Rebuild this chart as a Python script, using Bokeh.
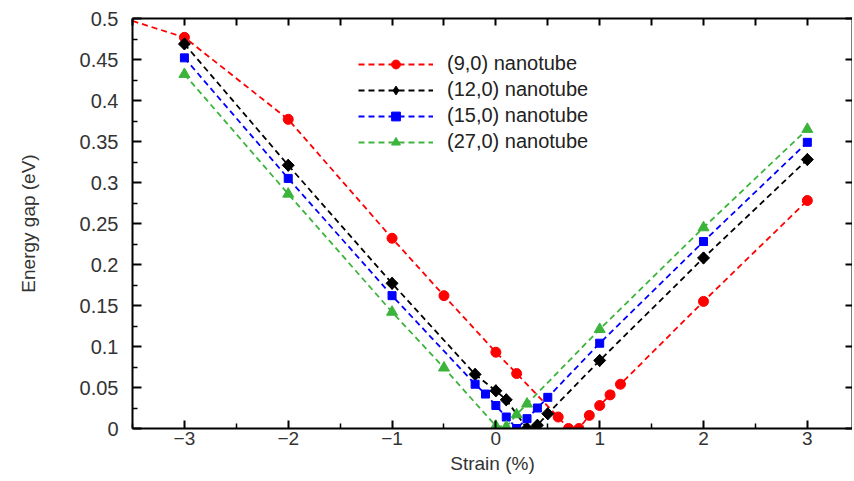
import numpy as np
from bokeh.plotting import figure
from bokeh.models import LinearAxis, FixedTicker, Range1d, Legend, LegendItem
from bokeh.embed import file_html
from bokeh.resources import INLINE

# ---- data ----
x_9 = [-3, -2, -1, -0.5, 0, 0.2, 0.6, 0.7, 0.8, 0.9, 1.0, 1.1, 1.2, 2, 3]
y_9 = [0.477, 0.377, 0.232, 0.162, 0.093, 0.067, 0.014, 0.0, 0.0, 0.016, 0.028, 0.041, 0.054, 0.155, 0.278]
x_9_edge = [-3.5]
y_9_edge = [0.497]

x_12 = [-3, -2, -1, -0.2, 0, 0.1, 0.3, 0.4, 0.5, 1, 2, 3]
y_12 = [0.469, 0.321, 0.177, 0.066, 0.046, 0.035, 0.0, 0.004, 0.018, 0.083, 0.208, 0.328]

x_15 = [-3, -2, -1, -0.2, -0.1, 0, 0.1, 0.2, 0.3, 0.4, 0.5, 1, 2, 3]
y_15 = [0.452, 0.305, 0.162, 0.054, 0.042, 0.028, 0.014, 0.0, 0.012, 0.025, 0.038, 0.104, 0.228, 0.349]

x_27 = [-3, -2, -1, -0.5, 0, 0.1, 0.2, 0.3, 1, 2, 3]
y_27 = [0.432, 0.286, 0.142, 0.074, 0.003, 0.002, 0.017, 0.030, 0.121, 0.245, 0.365]

series_names = ["(9,0) nanotube", "(12,0) nanotube", "(15,0) nanotube", "(27,0) nanotube"]

xtick_values = [-3, -2, -1, 0, 1, 2, 3]
xtick_labels = ["\u22123", "\u22122", "\u22121", "0", "1", "2", "3"]
xminor_values = [-3.5, -2.5, -1.5, -0.5, 0.5, 1.5, 2.5]
ytick_values = [0, 0.05, 0.1, 0.15, 0.2, 0.25, 0.3, 0.35, 0.4, 0.45, 0.5]
ytick_labels = ["0", "0.05", "0.1", "0.15", "0.2", "0.25", "0.3", "0.35", "0.4", "0.45", "0.5"]

# ---- figure ----
FONT = "Liberation Sans"
p = figure(width=852, height=480, x_range=Range1d(-3.5, 3.435), y_range=Range1d(0, 0.5),
           output_backend="svg", toolbar_location=None,
           x_axis_location=None, y_axis_location=None,
           min_border_left=132, min_border_right=0, min_border_top=18, min_border_bottom=52)
p.outline_line_color = None
p.background_fill_color = "white"
p.border_fill_color = "white"
p.xgrid.grid_line_color = None
p.ygrid.grid_line_color = None


def style_axis(ax, tick_in, minor_in):
    ax.axis_line_color = "black"
    ax.axis_line_width = 2
    ax.major_tick_in = tick_in
    ax.major_tick_out = 0
    ax.minor_tick_in = minor_in
    ax.minor_tick_out = 0
    ax.major_tick_line_color = "black"
    ax.major_tick_line_width = 2
    ax.minor_tick_line_color = "black"
    ax.minor_tick_line_width = 1.5
    ax.major_label_text_font = FONT
    ax.major_label_text_color = "#333333"
    ax.axis_label_text_font = FONT
    ax.axis_label_text_font_style = "normal"
    ax.axis_label_text_color = "#333333"


minor_y = list((np.array(ytick_values[:-1]) + np.array(ytick_values[1:])) / 2)

bottom = LinearAxis(ticker=FixedTicker(ticks=xtick_values, minor_ticks=xminor_values),
                    axis_label="Strain (%)",
                    major_label_overrides=dict(zip(xtick_values, xtick_labels)))
style_axis(bottom, 8, 5)
bottom.major_label_text_font_size = "19px"
bottom.axis_label_text_font_size = "19px"
bottom.major_label_standoff = 3
bottom.axis_label_standoff = 5

left = LinearAxis(ticker=FixedTicker(ticks=ytick_values, minor_ticks=minor_y),
                  axis_label="Energy gap (eV)",
                  major_label_overrides=dict(zip(ytick_values, ytick_labels)))
style_axis(left, 9, 5)
left.major_label_text_font_size = "20px"
left.axis_label_text_font_size = "19px"
left.major_label_standoff = 14
left.axis_label_standoff = 38

# frame ticks on top and right: only minor ticks, so no labels are drawn
top = LinearAxis(ticker=FixedTicker(ticks=[], minor_ticks=sorted(xtick_values + xminor_values)))
style_axis(top, 0, 7)
top.minor_tick_line_width = 2
right = LinearAxis(ticker=FixedTicker(ticks=[], minor_ticks=ytick_values))
style_axis(right, 0, 7)
right.minor_tick_line_width = 2

p.add_layout(bottom, "below")
p.add_layout(left, "left")
p.add_layout(top, "above")
p.add_layout(right, "right")

# ---- series ----
DASH = "6 4"
LW = 1.8
c9, c12, c15, c27 = "#ff0000", "#000000", "#0000ff", "#3cb43c"

l9 = p.line(x_9_edge + x_9, y_9_edge + y_9, line_color=c9, line_width=LW, line_dash=DASH)
s9 = p.scatter(x_9, y_9, marker="circle", size=10, fill_color=c9, line_color=c9)

l12 = p.line(x_12, y_12, line_color=c12, line_width=LW, line_dash=DASH)
# diamond used as the legend swatch; hidden under the wider rotated squares
s12_key = p.scatter(x_12, y_12, marker="diamond", size=12, fill_color=c12, line_color=c12)
s12 = p.scatter(x_12, y_12, marker="square", angle=np.pi / 4, size=8.5,
                fill_color=c12, line_color=c12)

l15 = p.line(x_15, y_15, line_color=c15, line_width=LW, line_dash=DASH)
s15 = p.scatter(x_15, y_15, marker="square", size=8, fill_color=c15, line_color=c15)

l27 = p.line(x_27, y_27, line_color=c27, line_width=LW, line_dash=DASH)
s27 = p.scatter(x_27, y_27, marker="triangle", size=11, fill_color=c27, line_color=c27)

items = [LegendItem(label=n, renderers=r) for n, r in
         zip(series_names, [[l9, s9], [l12, s12_key], [l15, s15], [l27, s27]])]
legend = Legend(items=items, location=(226, 275), glyph_width=75, glyph_height=22,
                label_height=22, spacing=3, padding=5, label_standoff=14,
                label_text_font=FONT, label_text_font_size="20px", label_text_color="#222222",
                border_line_color=None, background_fill_alpha=0)
p.add_layout(legend)

open("out.html", "w").write(file_html(p, INLINE))
